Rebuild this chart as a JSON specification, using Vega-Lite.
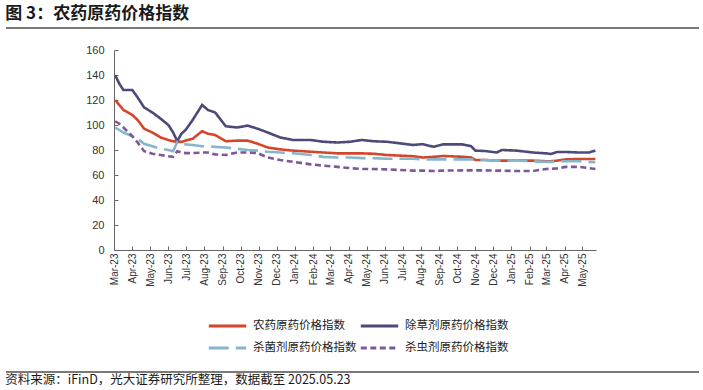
{
  "$schema": "https://vega.github.io/schema/vega-lite/v6.json",
  "background": "white",
  "padding": {"left": 5, "top": 5, "right": 5, "bottom": 0},
  "config": {
    "view": {"stroke": null},
    "font": "Liberation Sans",
    "title": {"font": "Noto Sans CJK SC"}
  },
  "spacing": 15,
  "resolve": {"legend": {"color": "independent", "strokeDash": "independent"}},
  "vconcat": [
    {
      "title": {"text": "图 3：农药原药价格指数", "anchor": "start", "frame": "bounds", "fontSize": 17, "fontWeight": "bold", "color": "#1a1a1a", "offset": 4},
      "width": 585,
      "height": 1,
      "data": {"values": [{"s": 0, "e": 1}]},
      "mark": {"type": "rule", "color": "#4d4d4d", "strokeWidth": 1.5},
      "encoding": {
        "x": {"field": "s", "type": "quantitative", "scale": {"domain": [0, 1], "range": [-108, 585]}, "axis": null},
        "x2": {"field": "e"},
        "y": {"field": "s", "type": "quantitative", "scale": {"domain": [0, 1]}, "axis": {"title": null, "labels": false, "ticks": false, "grid": false, "domain": false, "minExtent": 108}}
      }
    },
    {
      "width": 482,
      "height": 200,
      "data": {
        "values": [
          {"date": "2023-03-03", "农药原药价格指数": 120, "除草剂原药价格指数": 140, "杀菌剂原药价格指数": 98, "杀虫剂原药价格指数": 103},
          {"date": "2023-03-10", "农药原药价格指数": 116, "除草剂原药价格指数": 133, "杀菌剂原药价格指数": 96, "杀虫剂原药价格指数": 101},
          {"date": "2023-03-17", "农药原药价格指数": 112, "除草剂原药价格指数": 128, "杀菌剂原药价格指数": 94, "杀虫剂原药价格指数": 98},
          {"date": "2023-04-01", "农药原药价格指数": 108, "除草剂原药价格指数": 128, "杀菌剂原药价格指数": 91, "杀虫剂原药价格指数": 91},
          {"date": "2023-04-10", "农药原药价格指数": 104, "除草剂原药价格指数": 122, "杀菌剂原药价格指数": 89, "杀虫剂原药价格指数": 86},
          {"date": "2023-04-21", "农药原药价格指数": 97, "除草剂原药价格指数": 114, "杀菌剂原药价格指数": 85, "杀虫剂原药价格指数": 79},
          {"date": "2023-05-05", "农药原药价格指数": 94, "除草剂原药价格指数": 110, "杀菌剂原药价格指数": 83, "杀虫剂原药价格指数": 77},
          {"date": "2023-05-19", "农药原药价格指数": 90, "除草剂原药价格指数": 105, "杀菌剂原药价格指数": 81, "杀虫剂原药价格指数": 76},
          {"date": "2023-06-01", "农药原药价格指数": 88, "除草剂原药价格指数": 100, "杀菌剂原药价格指数": 80, "杀虫剂原药价格指数": 75},
          {"date": "2023-06-09", "农药原药价格指数": 87, "除草剂原药价格指数": 94, "杀菌剂原药价格指数": 79, "杀虫剂原药价格指数": 74.5},
          {"date": "2023-06-16", "农药原药价格指数": 86.5, "除草剂原药价格指数": 87, "杀菌剂原药价格指数": 86.5, "杀虫剂原药价格指数": 79},
          {"date": "2023-06-23", "农药原药价格指数": 86.5, "除草剂原药价格指数": 93, "杀菌剂原药价格指数": 85, "杀虫剂原药价格指数": 78},
          {"date": "2023-06-30", "农药原药价格指数": 87.5, "除草剂原药价格指数": 96, "杀菌剂原药价格指数": 84.5, "杀虫剂原药价格指数": 77.5},
          {"date": "2023-07-12", "农药原药价格指数": 89, "除草剂原药价格指数": 104, "杀菌剂原药价格指数": 84, "杀虫剂原药价格指数": 77.5},
          {"date": "2023-07-28", "农药原药价格指数": 95, "除草剂原药价格指数": 116, "杀菌剂原药价格指数": 83, "杀虫剂原药价格指数": 78},
          {"date": "2023-08-07", "农药原药价格指数": 93, "除草剂原药价格指数": 112, "杀菌剂原药价格指数": 83, "杀虫剂原药价格指数": 78},
          {"date": "2023-08-19", "农药原药价格指数": 92, "除草剂原药价格指数": 110, "杀菌剂原药价格指数": 82.5, "杀虫剂原药价格指数": 76.5},
          {"date": "2023-09-06", "农药原药价格指数": 87, "除草剂原药价格指数": 99, "杀菌剂原药价格指数": 82, "杀虫剂原药价格指数": 76},
          {"date": "2023-09-25", "农药原药价格指数": 87.5, "除草剂原药价格指数": 98, "杀菌剂原药价格指数": 81, "杀虫剂原药价格指数": 78},
          {"date": "2023-10-13", "农药原药价格指数": 87.5, "除草剂原药价格指数": 99.5, "杀菌剂原药价格指数": 80, "杀虫剂原药价格指数": 78},
          {"date": "2023-10-30", "农药原药价格指数": 85, "除草剂原药价格指数": 97, "杀菌剂原药价格指数": 79.5, "杀虫剂原药价格指数": 77.5},
          {"date": "2023-11-16", "农药原药价格指数": 82, "除草剂原药价格指数": 94, "杀菌剂原药价格指数": 78.6, "杀虫剂原药价格指数": 74},
          {"date": "2023-12-07", "农药原药价格指数": 80.5, "除草剂原药价格指数": 90, "杀菌剂原药价格指数": 78, "杀虫剂原药价格指数": 72},
          {"date": "2023-12-29", "农药原药价格指数": 79.5, "除草剂原药价格指数": 88, "杀菌剂原药价格指数": 77.4, "杀虫剂原药价格指数": 70.5},
          {"date": "2024-01-28", "农药原药价格指数": 78.6, "除草剂原药价格指数": 88, "杀菌剂原药价格指数": 76, "杀虫剂原药价格指数": 68.5},
          {"date": "2024-02-18", "农药原药价格指数": 78, "除草剂原药价格指数": 86.6, "杀菌剂原药价格指数": 74.5, "杀虫剂原药价格指数": 67.5},
          {"date": "2024-03-13", "农药原药价格指数": 77.3, "除草剂原药价格指数": 86, "杀菌剂原药价格指数": 74, "杀虫剂原药价格指数": 66.5},
          {"date": "2024-04-03", "农药原药价格指数": 77.3, "除草剂原药价格指数": 86.6, "杀菌剂原药价格指数": 74, "杀虫剂原药价格指数": 65.5},
          {"date": "2024-04-23", "农药原药价格指数": 77.3, "除草剂原药价格指数": 88, "杀菌剂原药价格指数": 73.5, "杀虫剂原药价格指数": 64.8},
          {"date": "2024-05-13", "农药原药价格指数": 77, "除草剂原药价格指数": 87, "杀菌剂原药价格指数": 73.5, "杀虫剂原药价格指数": 64.8},
          {"date": "2024-06-04", "农药原药价格指数": 76, "除草剂原药价格指数": 86.6, "杀菌剂原药价格指数": 73, "杀虫剂原药价格指数": 64.5},
          {"date": "2024-06-27", "农药原药价格指数": 75.5, "除草剂原药价格指数": 85.3, "杀菌剂原药价格指数": 73, "杀虫剂原药价格指数": 64},
          {"date": "2024-07-19", "农药原药价格指数": 75, "除草剂原药价格指数": 84, "杀菌剂原药价格指数": 73, "杀虫剂原药价格指数": 63.5},
          {"date": "2024-08-04", "农药原药价格指数": 74, "除草剂原药价格指数": 84.7, "杀菌剂原药价格指数": 72.5, "杀虫剂原药价格指数": 63.5},
          {"date": "2024-08-22", "农药原药价格指数": 74.5, "除草剂原药价格指数": 82.6, "杀菌剂原药价格指数": 72.5, "杀虫剂原药价格指数": 63.2},
          {"date": "2024-09-07", "农药原药价格指数": 75.2, "除草剂原药价格指数": 84.5, "杀菌剂原药价格指数": 72.5, "杀虫剂原药价格指数": 63.5},
          {"date": "2024-10-10", "农药原药价格指数": 74.6, "除草剂原药价格指数": 84.5, "杀菌剂原药价格指数": 72.5, "杀虫剂原药价格指数": 63.7},
          {"date": "2024-10-25", "农药原药价格指数": 74, "除草剂原药价格指数": 83, "杀菌剂原药价格指数": 72.5, "杀虫剂原药价格指数": 63.7},
          {"date": "2024-11-01", "农药原药价格指数": 72, "除草剂原药价格指数": 79.5, "杀菌剂原药价格指数": 72, "杀虫剂原药价格指数": 63.7},
          {"date": "2024-11-17", "农药原药价格指数": 72, "除草剂原药价格指数": 79.2, "杀菌剂原药价格指数": 72, "杀虫剂原药价格指数": 63.7},
          {"date": "2024-12-07", "农药原药价格指数": 71.5, "除草剂原药价格指数": 78, "杀菌剂原药价格指数": 71.5, "杀虫剂原药价格指数": 63.5},
          {"date": "2024-12-16", "农药原药价格指数": 71.5, "除草剂原药价格指数": 80, "杀菌剂原药价格指数": 71.5, "杀虫剂原药价格指数": 63.5},
          {"date": "2025-01-10", "农药原药价格指数": 71.5, "除草剂原药价格指数": 79.5, "杀菌剂原药价格指数": 71.5, "杀虫剂原药价格指数": 63.2},
          {"date": "2025-02-06", "农药原药价格指数": 71.5, "除草剂原药价格指数": 78, "杀菌剂原药价格指数": 71, "杀虫剂原药价格指数": 63.2},
          {"date": "2025-03-01", "农药原药价格指数": 71, "除草剂原药价格指数": 77.3, "杀菌剂原药价格指数": 70.5, "杀虫剂原药价格指数": 64.8},
          {"date": "2025-03-09", "农药原药价格指数": 71, "除草剂原药价格指数": 76.8, "杀菌剂原药价格指数": 70.5, "杀虫剂原药价格指数": 65},
          {"date": "2025-03-19", "农药原药价格指数": 71.5, "除草剂原药价格指数": 78.4, "杀菌剂原药价格指数": 70.8, "杀虫剂原药价格指数": 65.3},
          {"date": "2025-04-03", "农药原药价格指数": 72.5, "除草剂原药价格指数": 78.4, "杀菌剂原药价格指数": 71, "杀虫剂原药价格指数": 66.5},
          {"date": "2025-04-25", "农药原药价格指数": 72.8, "除草剂原药价格指数": 78, "杀菌剂原药价格指数": 71, "杀虫剂原药价格指数": 66.5},
          {"date": "2025-05-12", "农药原药价格指数": 72.8, "除草剂原药价格指数": 78, "杀菌剂原药价格指数": 70.5, "杀虫剂原药价格指数": 65.5},
          {"date": "2025-05-23", "农药原药价格指数": 72.8, "除草剂原药价格指数": 79.5, "杀菌剂原药价格指数": 70.2, "杀虫剂原药价格指数": 64.8}
        ]
      },
      "transform": [
        {"fold": ["农药原药价格指数", "除草剂原药价格指数", "杀菌剂原药价格指数", "杀虫剂原药价格指数"], "as": ["series", "value"]}
      ],
      "mark": {"type": "line", "strokeWidth": 2.6, "interpolate": "linear"},
      "encoding": {
        "x": {
          "field": "date",
          "type": "temporal",
          "scale": {"type": "utc", "domain": [{"year": 2023, "month": 3, "date": 1, "utc": true}, {"year": 2025, "month": 5, "date": 24, "utc": true}], "nice": false},
          "axis": {
            "title": null,
            "labelExpr": "utcFormat(datum.value, '%b-%y')",
            "tickCount": {"interval": "month", "step": 1},
            "labelAngle": -90,
            "labelFontSize": 10,
            "labelColor": "#333333",
            "labelPadding": 7,
            "tickSize": -4,
            "tickColor": "#666666",
            "domainColor": "#666666",
            "grid": false,
            "labelOverlap": false,
            "labelFlush": false
          }
        },
        "y": {
          "field": "value",
          "type": "quantitative",
          "scale": {"domain": [0, 160], "nice": false},
          "axis": {
            "title": null,
            "values": [0, 20, 40, 60, 80, 100, 120, 140, 160],
            "labelFontSize": 11,
            "labelColor": "#333333",
            "labelPadding": 14,
            "tickSize": -4,
            "tickColor": "#666666",
            "domainColor": "#666666",
            "grid": false,
            "minExtent": 108
          }
        },
        "color": {
          "field": "series",
          "type": "nominal",
          "scale": {
            "domain": ["农药原药价格指数", "除草剂原药价格指数", "杀菌剂原药价格指数", "杀虫剂原药价格指数"],
            "range": ["#D4452A", "#4D4A79", "#86B6CB", "#7E5797"]
          },
          "legend": {
            "title": null,
            "orient": "none",
            "direction": "horizontal",
            "legendX": 93,
            "legendY": 268,
            "columns": 2,
            "columnPadding": 2,
            "rowPadding": 6,
            "clipHeight": 16,
            "symbolType": "stroke",
            "symbolSize": 1400,
            "symbolStrokeWidth": 3,
            "labelOffset": 5,
            "labelFont": "Noto Sans CJK SC",
            "labelFontSize": 11.5,
            "labelColor": "#222222"
          }
        },
        "strokeDash": {
          "field": "series",
          "type": "nominal",
          "scale": {
            "domain": ["农药原药价格指数", "除草剂原药价格指数", "杀菌剂原药价格指数", "杀虫剂原药价格指数"],
            "range": [[1, 0], [1, 0], [20, 7], [6, 3.5]]
          },
          "legend": {
            "title": null,
            "orient": "none",
            "direction": "horizontal",
            "legendX": 93,
            "legendY": 268,
            "columns": 2,
            "columnPadding": 2,
            "rowPadding": 6,
            "clipHeight": 16,
            "symbolType": "stroke",
            "symbolSize": 1400,
            "symbolStrokeWidth": 3,
            "labelOffset": 5,
            "labelFont": "Noto Sans CJK SC",
            "labelFontSize": 11.5,
            "labelColor": "#222222"
          }
        }
      }
    },
    {
      "title": {"text": "资料来源：iFinD，光大证券研究所整理，数据截至 2025.05.23", "orient": "bottom", "anchor": "start", "frame": "bounds", "fontSize": 12.5, "fontWeight": "normal", "color": "#1a1a1a", "offset": 1},
      "width": 585,
      "height": 1,
      "data": {"values": [{"s": 0, "e": 1, "t": 1}]},
      "mark": {"type": "rule", "color": "#4d4d4d", "strokeWidth": 1.5},
      "encoding": {
        "x": {"field": "s", "type": "quantitative", "scale": {"domain": [0, 1], "range": [-108, 585]}, "axis": null},
        "x2": {"field": "e"},
        "y": {"field": "t", "type": "quantitative", "scale": {"domain": [0, 1]}, "axis": {"title": null, "labels": false, "ticks": false, "grid": false, "domain": false, "minExtent": 108}}
      }
    }
  ]
}
